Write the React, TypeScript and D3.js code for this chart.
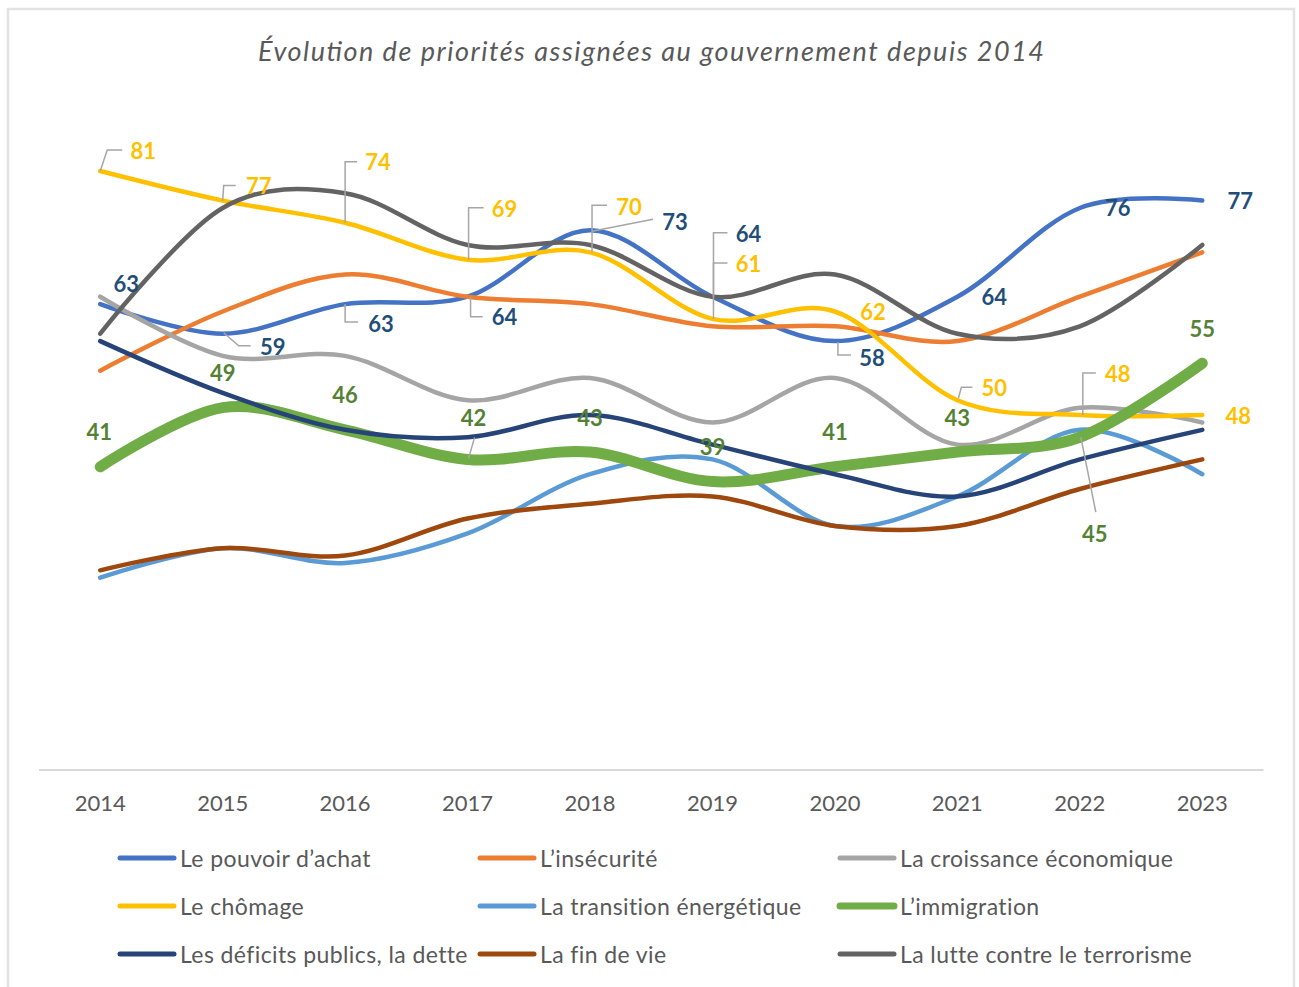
import React from "react";
import * as d3 from "d3";

const years = ["2014", "2015", "2016", "2017", "2018", "2019", "2020", "2021", "2022", "2023"];
const pouvoirAchat = [63, 59, 63, 64, 73, 64, 58, 64, 76, 77];
const insecurite = [54, 62, 67, 64, 63, 60, 60, 58, 64, 70];
const croissance = [64, 56, 56, 50, 53, 47, 53, 44, 49, 47];
const chomage = [81, 77, 74, 69, 70, 61, 62, 50, 48, 48];
const transition = [26, 30, 28, 32, 40, 42, 33, 37, 46, 40];
const immigration = [41, 49, 46, 42, 43, 39, 41, 43, 45, 55];
const deficits = [58, 51, 46, 45, 48, 44, 40, 37, 42, 46];
const finDeVie = [27, 30, 29, 34, 36, 37, 33, 33, 38, 42];
const terrorisme = [59, 76, 78, 71, 71, 64, 67, 59, 60, 71];

const seriesNames = [
  "Le pouvoir d’achat",
  "L’insécurité",
  "La croissance économique",
  "Le chômage",
  "La transition énergétique",
  "L’immigration",
  "Les déficits publics, la dette",
  "La fin de vie",
  "La lutte contre le terrorisme",
];
const seriesValues = [pouvoirAchat, insecurite, croissance, chomage, transition, immigration, deficits, finDeVie, terrorisme];

// styles
const seriesColors = ["#4472C4", "#ED7D31", "#A5A5A5", "#FFC000", "#5B9BD5", "#70AD47", "#264478", "#9E480E", "#636363"];
const seriesWidths = [4.5, 4.5, 4.5, 4.5, 4.5, 11, 4.5, 4.5, 4.5];

type Lbl = { i: number; dx: number; dy: number; leader?: [number, number][] };
// label layout (offsets relative to the data point)
const labelLayout: { s: number; color: string; labels: Lbl[] }[] = [
  {
    s: 3,
    color: "#FFC000",
    labels: [
      { i: 0, dx: 43, dy: -21, leader: [[0, 0], [7, -21], [22, -21]] },
      { i: 1, dx: 36, dy: -15, leader: [[0, 0], [1, -15], [13, -15]] },
      { i: 2, dx: 33, dy: -61, leader: [[0, 0], [0, -61], [12, -61]] },
      { i: 3, dx: 37, dy: -51, leader: [[1, 0], [1, -52], [16, -52]] },
      { i: 4, dx: 39, dy: -46, leader: [[2, 0], [2, -47], [17, -47]] },
      { i: 5, dx: 36, dy: -55, leader: [[1, 0], [1, -56], [15, -56]] },
      { i: 6, dx: 38, dy: 0 },
      { i: 7, dx: 37, dy: -13, leader: [[1, -2], [4, -13], [15, -13]] },
      { i: 8, dx: 38, dy: -42, leader: [[3, 0], [3, -42], [16, -42]] },
      { i: 9, dx: 36, dy: 0 },
    ],
  },
  {
    s: 0,
    color: "#1F4E79",
    labels: [
      { i: 0, dx: 26, dy: -21 },
      { i: 1, dx: 50, dy: 13, leader: [[1, -1], [16, 12], [28, 12]] },
      { i: 2, dx: 36, dy: 19, leader: [[0, 0], [0, 18], [13, 18]] },
      { i: 3, dx: 37, dy: 20, leader: [[3, 0], [3, 20], [15, 20]] },
      { i: 4, dx: 85, dy: -9, leader: [[2, 1], [63, -11]] },
      { i: 5, dx: 36, dy: -63, leader: [[1, 0], [1, -64], [15, -64]] },
      { i: 6, dx: 37, dy: 16, leader: [[3, 1], [3, 14], [16, 14]] },
      { i: 7, dx: 37, dy: 0 },
      { i: 8, dx: 38, dy: 0 },
      { i: 9, dx: 38, dy: 0 },
    ],
  },
  {
    s: 5,
    color: "#548235",
    labels: [
      { i: 0, dx: -1, dy: -35 },
      { i: 1, dx: 0, dy: -35 },
      { i: 2, dx: 0, dy: -35 },
      { i: 3, dx: 6, dy: -42, leader: [[1, -1], [7, -22]] },
      { i: 4, dx: 0, dy: -35 },
      { i: 5, dx: 0, dy: -35 },
      { i: 6, dx: 0, dy: -35 },
      { i: 7, dx: 0, dy: -35 },
      { i: 8, dx: 15, dy: 96, leader: [[1, 0], [16, 75]] },
      { i: 9, dx: 0, dy: -35 },
    ],
  },
];

const W = 1299;
const H = 987;
const FONT = "Lato, 'Open Sans', sans-serif";

export default function App() {
  const x = d3.scaleBand<string>().domain(years).range([39, 1263.5]);
  const y = d3.scaleLinear().domain([0, 100]).range([770, 30.5]);
  const cx = (i: number) => (x(years[i]) as number) + x.bandwidth() / 2;

  const line = d3
    .line<number>()
    .x((_, i) => cx(i))
    .y((d) => y(d))
    .curve(d3.curveCardinal.tension(0));

  const legendCols = [118, 478, 838];
  const legendRows = [858, 906, 954];

  return (
    <svg
      width={W}
      height={H}
      style={{ position: "absolute", left: 0, top: 0, background: "#fff" }}
      fontFamily={FONT}
    >
      <rect x={0} y={0} width={W} height={H} fill="#fff" />
      <rect x={8} y={9} width={1286} height={H + 20} fill="#fff" stroke="#E3E3E3" strokeWidth={2.5} />
      <text
        x={651}
        y={50}
        textAnchor="middle"
        dominantBaseline="central"
        fontStyle="italic"
        fontSize={27}
        textLength={786}
        lengthAdjust="spacing"
        fill="#595959"
      >
        Évolution de priorités assignées au gouvernement depuis 2014
      </text>

      {/* axis line */}
      <line x1={x.range()[0]} x2={x.range()[1]} y1={y(0)} y2={y(0)} stroke="#D9D9D9" strokeWidth={2} />
      {years.map((yr, i) => (
        <text
          key={yr}
          x={cx(i)}
          y={802}
          textAnchor="middle"
          dominantBaseline="central"
          fontSize={22}
          fill="#595959"
        >
          {yr}
        </text>
      ))}

      {/* lines */}
      {seriesValues.map((vals, s) => (
        <path
          key={s}
          d={line(vals) as string}
          fill="none"
          stroke={seriesColors[s]}
          strokeWidth={seriesWidths[s]}
          strokeLinecap="round"
          strokeLinejoin="round"
        />
      ))}

      {/* leader lines & labels */}
      {labelLayout.map((g) =>
        g.labels.map((l) => {
          const vals = seriesValues[g.s];
          const px = cx(l.i);
          const py = y(vals[l.i]);
          return (
            <g key={g.s + "-" + l.i}>
              {l.leader && (
                <polyline
                  points={l.leader.map(([a, b]) => `${px + a},${py + b}`).join(" ")}
                  fill="none"
                  stroke="#A6A6A6"
                  strokeWidth={1.5}
                />
              )}
              <text
                x={px + l.dx}
                y={py + l.dy}
                textAnchor="middle"
                dominantBaseline="central"
                fontWeight="bold"
                fontSize={22}
                fill={g.color}
              >
                {vals[l.i]}
              </text>
            </g>
          );
        })
      )}

      {/* legend */}
      {seriesNames.map((name, k) => {
        const col = k % 3;
        const row = Math.floor(k / 3);
        const lx = legendCols[col];
        const ly = legendRows[row];
        return (
          <g key={name}>
            <line
              x1={lx + 2}
              x2={lx + 56}
              y1={ly}
              y2={ly}
              stroke={seriesColors[k]}
              strokeWidth={k === 5 ? 7 : 5}
              strokeLinecap="round"
            />
            <text
              x={lx + 62}
              y={ly}
              dominantBaseline="central"
              fontSize={23}
              letterSpacing={0.4}
              fill="#595959"
            >
              {name}
            </text>
          </g>
        );
      })}
    </svg>
  );
}
